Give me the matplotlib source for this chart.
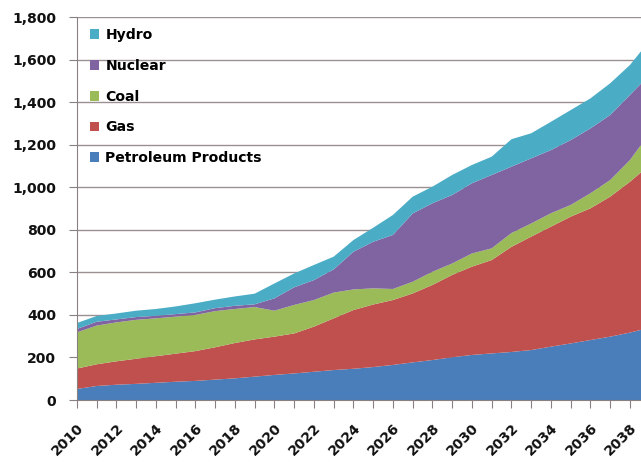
import numpy as np
import matplotlib
matplotlib.use('Agg')
import matplotlib.pyplot as plt

years = list(range(2010, 2040))
petroleum = [52, 66, 72, 76, 81, 86, 90, 96, 102, 110, 118, 125, 133, 141, 147,
             155, 165, 177, 188, 201, 212, 219, 226, 235, 251, 266, 282, 298, 317, 340]
gas = [96, 102, 110, 118, 125, 132, 140, 152, 166, 175, 180, 188, 212, 243, 276,
       294, 305, 324, 353, 387, 415, 439, 494, 533, 564, 596, 619, 658, 709, 765]
coal = [170, 182, 183, 183, 178, 174, 170, 170, 160, 152, 122, 134, 125, 121, 97,
        76, 52, 55, 62, 54, 62, 55, 65, 62, 63, 55, 71, 78, 102, 150]
nuclear = [16, 18, 14, 13, 12, 12, 12, 14, 15, 13, 58, 83, 94, 109, 177,
           219, 254, 321, 322, 322, 330, 345, 312, 306, 297, 305, 305, 306, 306, 275]
hydro = [28, 27, 28, 30, 32, 36, 43, 40, 44, 50, 70, 65, 71, 60, 55,
         66, 94, 79, 78, 94, 86, 86, 129, 118, 133, 141, 141, 149, 141, 160]

names = ['Petroleum Products', 'Gas', 'Coal', 'Nuclear', 'Hydro']
colors = ['#4a7ebb', '#c0504d', '#9bbb59', '#8064a2', '#4bacc6']

plt.rcParams['font.family'] = ['DejaVu Sans']

fig = plt.figure(figsize=(6.41, 4.63), dpi=100)
ax = fig.add_axes([0.120, 0.136, 0.880, 0.827])

polys = ax.stackplot(years, petroleum, gas, coal, nuclear, hydro,
                     labels=names, colors=colors, linewidth=0, zorder=2)

ax.set_xlim(2010, 2038.56)
ax.set_ylim(0, 1800)
ax.set_yticks(range(0, 1801, 200))
ax.set_yticklabels(['{:,}'.format(v) for v in range(0, 1801, 200)])
ax.grid(axis='y', color='#9a9090', linewidth=1.0, zorder=0)
ax.set_axisbelow(True)

ax.set_xticks(years[:-1])
ax.set_xticklabels([str(y) if y % 2 == 0 else '' for y in years[:-1]],
                   rotation=45, ha='right', rotation_mode='anchor')

for s in ['top', 'right']:
    ax.spines[s].set_visible(False)
for s in ['left', 'bottom']:
    ax.spines[s].set_color('#8a8080')
ax.tick_params(axis='both', colors='#8a8080', length=6, labelcolor='#111111',
               labelsize=10.1)
ax.tick_params(axis='x', pad=9)
ax.tick_params(axis='y', pad=9)
for lab in ax.get_xticklabels() + ax.get_yticklabels():
    lab.set_fontweight('bold')

h, l = ax.get_legend_handles_labels()
leg = ax.legend(h[::-1], l[::-1], loc='upper left', bbox_to_anchor=(0.0, 1.004),
                frameon=False, handlelength=0.68, handleheight=0.68,
                handletextpad=0.45, labelspacing=1.19, fontsize=10.1)
for t in leg.get_texts():
    t.set_fontweight('bold')

fig.savefig('out.png', dpi=100)
